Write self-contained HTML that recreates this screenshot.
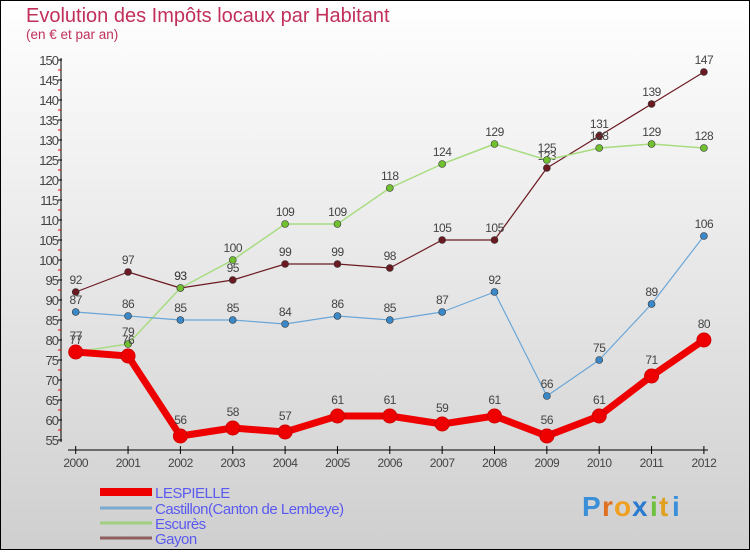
<!DOCTYPE html>
<html><head><meta charset="utf-8"><style>
body{margin:0}
svg text{font-family:"Liberation Sans",sans-serif}
</style></head><body>
<svg id="c" width="750" height="550" xmlns="http://www.w3.org/2000/svg">
<defs><linearGradient id="bg" x1="0" y1="0" x2="0" y2="1"><stop offset="0" stop-color="#ffffff"/><stop offset="1" stop-color="#cfcfcf"/></linearGradient></defs>
<rect x="0.5" y="0.5" width="749" height="549" fill="url(#bg)" stroke="#000"/>
<text x="26" y="22" font-size="20" fill="#c0305a">Evolution des Impôts locaux par Habitant</text>
<text x="26" y="39" font-size="13.5" fill="#c0305a">(en € et par an)</text>
<g id="axes"></g>
<g id="series"></g>
<g id="legend"></g>
<g font-size="28" font-weight="bold">
<text x="582" y="516" fill="#3a8fd8">P</text><text x="602" y="516" fill="#e07020">r</text><text x="614" y="516" fill="#f0a020">o</text><text x="632" y="516" fill="#2a7ad0">x</text><text x="650" y="516" fill="#70c040">i</text><text x="659" y="516" fill="#e0a020">t</text><text x="672" y="516" fill="#3a8fd8">i</text>
</g>
</svg>
<script>
const years=[2000,2001,2002,2003,2004,2005,2006,2007,2008,2009,2010,2011,2012];
const lespielle=[77,76,56,58,57,61,61,59,61,56,61,71,80];
const castillon=[87,86,85,85,84,86,85,87,92,66,75,89,106];
const escures=[77,79,93,100,109,109,118,124,129,125,128,129,128];
const gayon=[92,97,93,95,99,99,98,105,105,123,131,139,147];
const yTicks=[55,60,65,70,75,80,85,90,95,100,105,110,115,120,125,130,135,140,145,150];
const seriesNames=["LESPIELLE","Castillon(Canton de Lembeye)","Escurès","Gayon"];
const NS="http://www.w3.org/2000/svg";
const X=i=>75.7+i*52.35, Y=v=>440-(v-55)*4;
function mk(p,t,a){const e=document.createElementNS(NS,t);for(const k in a)e.setAttribute(k,a[k]);p.appendChild(e);return e;}
const ax=document.getElementById('axes');
let l=mk(ax,'line',{x1:61,y1:58,x2:61,y2:442,stroke:'#000'});


l=mk(ax,'line',{x1:68,y1:450,x2:708,y2:450,stroke:'#000'});


yTicks.forEach(v=>{
 mk(ax,'line',{x1:58,y1:Y(v),x2:62,y2:Y(v),stroke:'#000'});
 if(v<150) mk(ax,'line',{x1:58,y1:Y(v+2.5),x2:61,y2:Y(v+2.5),stroke:'#e00000'});
 const t=mk(ax,'text',{x:58,y:Y(v)+5,'font-size':13,fill:'#444','text-anchor':'end','letter-spacing':'-1'});
 t.textContent=v;
 
 
});
years.forEach((y,i)=>{
 mk(ax,'line',{x1:X(i),y1:446,x2:X(i),y2:454,stroke:'#000'});
 const t=mk(ax,'text',{x:X(i),y:467,'font-size':12,fill:'#444','text-anchor':'middle','letter-spacing':'-0.5'});
 t.textContent=y;
 
 
});
const sg=document.getElementById('series');
const defs=[[gayon,'#6b1a22','#6b1a22',1.2,3.5,'gayon'],[escures,'#a8dc80','#70c030',1.5,3.5,'escures'],[castillon,'#6aa6d8','#3a88c8',1.2,3.5,'castillon'],[lespielle,'#ee0000','#ee0000',7,7,'lespielle']];
defs.forEach(([d,c,pc,w,r,n])=>{
 const g=mk(sg,'g',{});
 
 
 const p=mk(g,'polyline',{points:d.map((v,i)=>X(i)+','+Y(v)).join(' '),fill:'none',stroke:c,'stroke-width':w,'stroke-linejoin':'round'});
 
 
 d.forEach((v,i)=>{
  const cc=mk(g,'circle',{cx:X(i),cy:Y(v),r:r,fill:pc,stroke:n=='lespielle'?'#d00000':'#333','stroke-width':n=='lespielle'?1:0.6});
  
  
  const t=mk(g,'text',{x:X(i),y:Y(v)-(n=='lespielle'?12:8),'font-size':12,fill:'#444','text-anchor':'middle','letter-spacing':'-0.5'});
  t.textContent=v;
  
  
 });
});
const lg=document.getElementById('legend');
const lc=['#ee0000','#7aaad0','#a0d080','#906060'],lw=[8,3,3,3],ly=[492,508,523,538];
seriesNames.forEach((s,i)=>{
 const g=mk(lg,'g',{});
 
 
 mk(g,'line',{x1:100,y1:ly[i],x2:152,y2:ly[i],stroke:lc[i],'stroke-width':lw[i]});
 const t=mk(g,'text',{x:155,y:ly[i]+6,'font-size':15,fill:'#5a5af0','letter-spacing':'-0.5'});
 t.textContent=s;
});
</script>
</body></html>
